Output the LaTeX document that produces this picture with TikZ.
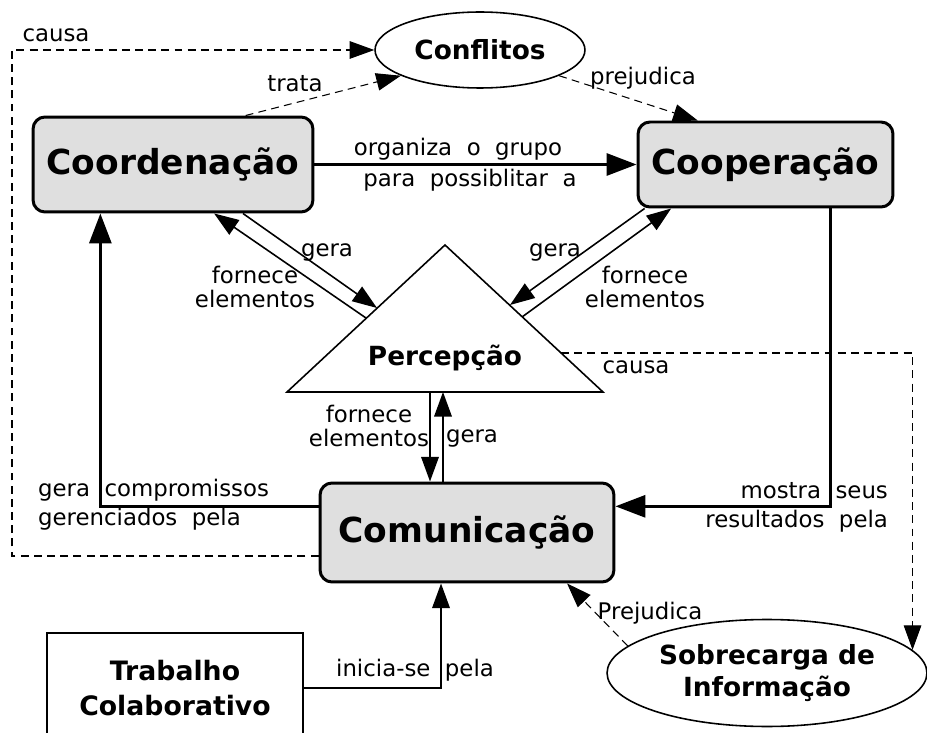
\documentclass[tikz,border=0pt]{standalone}
\usepackage{fontspec}
\setmainfont{DejaVu Sans}
\newfontfamily\rotfont[WordSpace=2]{DejaVu Sans}
\usetikzlibrary{arrows.meta,shapes.geometric}
\definecolor{boxgray}{RGB}{223,223,223}

\begin{document}
\begin{tikzpicture}[x=0.02cm, y=-0.02cm,
	conceito/.style={draw, line width=1.7pt, rounded corners=0.24cm, fill=boxgray,
		font=\fontsize{19.6}{22}\selectfont\bfseries},
	elipse/.style={draw, ellipse, line width=0.9pt, inner sep=0pt, align=center,
		font=\fontsize{15}{18}\selectfont\bfseries},
	rotulo/.style={font=\rotfont\fontsize{13}{14}\selectfont, inner sep=1pt, align=center},
	forte/.style={line width=1.7pt, -{Triangle[length=17pt,width=12.5pt]}},
	fino/.style={line width=0.9pt, -{Triangle[length=14pt,width=10pt]}},
	tracejado/.style={line width=0.6pt, dash pattern=on 4.5pt off 3pt, -{Triangle[length=14pt,width=10pt]}}]
	\useasboundingbox (0,0) rectangle (927,733);

	% conceitos
	\node [conceito, minimum width=5.6cm, minimum height=1.9cm] (coord) at (173,164.5) {Coordenação};
	\node [conceito, minimum width=5.1cm, minimum height=1.7cm] (coop) at (765.5,164.5) {Cooperação};
	\node [conceito, minimum width=5.88cm, minimum height=1.98cm] (comm) at (467,532.5) {Comunicação};
	\node [elipse, minimum width=4.2cm, minimum height=1.52cm] (conf) at (480,50) {Conflitos};
	\node [elipse, minimum width=6.4cm, minimum height=2.14cm] (sob) at (767,673) {Sobrecarga de\\Informação};
	\node [draw, line width=0.9pt, minimum width=5.12cm, minimum height=2.2cm, align=center,
		font=\fontsize{15.2}{20}\selectfont\bfseries] (trab) at (175,688) {Trabalho\\Colaborativo};

	% triangulo da percepcao
	\draw [line width=0.9pt] (445,245) coordinate (pTopo) -- (603,392) coordinate (pDir)
		-- (287,392) coordinate (pEsq) -- cycle;
	\node [font=\fontsize{15}{18}\selectfont\bfseries] (percep) at (445,358) {Percepção};
	\coordinate (pE1) at (377,308);
	\coordinate (pE2) at (366,318);
	\coordinate (pD1) at (510,305);
	\coordinate (pD2) at (522,317);
	\coordinate (pD3) at (561,353);
	\coordinate (pB1) at (430,392);
	\coordinate (pB2) at (443,392);
	\coordinate (cantoNO) at (12,50);

	% ligacoes
	\draw [forte] (coord) -- (coop);
	\draw [forte] (comm.170) -| (coord.214);
	\draw [forte] (coop.-34) |- (comm.10);
	\draw [fino] (coord.-35) -- (pE1);
	\draw [fino] (pE2) -- (coord.-50);
	\draw [fino] (coop.200) -- (pD1);
	\draw [fino] (pD2) -- (coop.205);
	\draw [fino] (pB1) -- (pB1 |- comm.north);
	\draw [fino] (pB2 |- comm.north) -- (pB2);
	\draw [fino] (trab.east) -| (comm.243);
	\draw [tracejado] (coord.34) -- (conf.198);
	\draw [tracejado] (conf.-18) -- (coop.147);
	\draw [tracejado] (comm.189) -| (cantoNO) -- (conf.west);
	\draw [tracejado] (pD3) -| (sob.9);
	\draw [tracejado] (sob.169) -- (comm.-27);

	% rotulos
	\node [rotulo] (lCausa) at (56,35) {causa};
	\node [rotulo] (lTrata) at (295,84) {trata};
	\node [rotulo] (lPrejudica) at (643,78) {prejudica};
	\node [rotulo] (lOrganiza) at (458,149) {organiza o grupo};
	\node [rotulo] (lPara) at (470,180) {para possiblitar a};
	\node [rotulo] (lGeraE) at (327,252) {gera};
	\node [rotulo] (lFornE) at (255,287) {fornece\\elementos};
	\node [rotulo] (lGeraD) at (555,252) {gera};
	\node [rotulo] (lFornD) at (645,287) {fornece\\elementos};
	\node [rotulo] (lFornB) at (369,426) {fornece\\elementos};
	\node [rotulo] (lGeraB) at (472,438) {gera};
	\node [rotulo] (lCausaD) at (636,367) {causa};
	\node [rotulo, align=left, anchor=west, font=\rotfont\fontsize{13}{16.4}\selectfont] (lCompr) at (36,505)
		{gera\ compromissos\\gerenciados pela};
	\node [rotulo, align=right, anchor=east, font=\rotfont\fontsize{13}{16.4}\selectfont] (lMostra) at (890,507)
		{mostra\ seus\\resultados pela};
	\node [rotulo] (lPrejB) at (650,613) {Prejudica};
	\node [rotulo] (lInicia) at (415,670) {inicia-se\ pela};
\end{tikzpicture}
\end{document}
